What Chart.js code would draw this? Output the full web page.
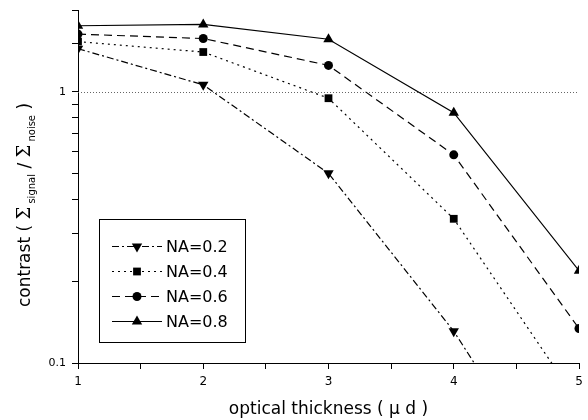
<!DOCTYPE html>
<html>
<head>
<meta charset="utf-8">
<script src="https://cdn.jsdelivr.net/npm/chart.js@4/dist/chart.umd.min.js"></script>
<style>
  html, body { margin: 0; padding: 0; background: #fff; }
  canvas { display: block; }
</style>
</head>
<body>
<canvas id="chart" width="588" height="420"></canvas>
<script>
// optical thickness (x) and contrast values per NA
const thickness = [1, 2, 3, 4, 5];
const na02 = [1.44, 1.06, 0.50, 0.131, 0.025];
const na04 = [1.53, 1.40, 0.946, 0.34, 0.071];
const na06 = [1.63, 1.57, 1.25, 0.585, 0.134];
const na08 = [1.75, 1.77, 1.56, 0.837, 0.219];
const seriesLabels = ['NA=0.2', 'NA=0.4', 'NA=0.6', 'NA=0.8'];
const yLabelTicks = [0.1, 1];
const refLine = 1;

const toPoints = (vals) => thickness.map((x, i) => ({ x: x, y: vals[i] }));

const styles = [
    { dash: [7, 3, 2, 3], point: 'triangle', rot: 180, r: 6 },
    { dash: [2, 4], point: 'rect', rot: 0, r: 5.5 },
    { dash: [8, 5], point: 'circle', rot: 0, r: 4.5 },
    { dash: [], point: 'triangle', rot: 0, r: 6 }
];

const datasets = [na02, na04, na06, na08].map((vals, i) => ({
    label: seriesLabels[i],
    data: toPoints(vals),
    borderColor: '#000',
    backgroundColor: '#000',
    borderWidth: 1.2,
    borderDash: styles[i].dash,
    pointStyle: styles[i].point,
    pointRotation: styles[i].rot,
    pointRadius: styles[i].r,
    pointBorderWidth: 0,
    tension: 0,
    clip: false
}));

const SANS = '"DejaVu Sans", "Liberation Sans", sans-serif';

const extras = {
    id: 'extras',
    beforeDatasetsDraw(chart) {
        // dotted line at contrast = 1
        const { ctx, chartArea } = chart;
        const y = Math.round(chart.scales.y.getPixelForValue(refLine)) + 0.5;
        ctx.save();
        ctx.strokeStyle = '#666';
        ctx.lineWidth = 1;
        ctx.setLineDash([1, 2]);
        ctx.beginPath();
        ctx.moveTo(chartArea.left, y);
        ctx.lineTo(chartArea.right, y);
        ctx.stroke();
        ctx.restore();
        // clip series to the plot (markers cut at left/right edges)
        ctx.save();
        ctx.beginPath();
        ctx.rect(chartArea.left, chartArea.top - 8, chartArea.right - chartArea.left, chartArea.bottom - chartArea.top + 8);
        ctx.clip();
    },
    afterDatasetsDraw(chart) {
        chart.ctx.restore();
    },
    afterDraw(chart) {
        const ctx = chart.ctx;
        // y axis title with subscripts
        const parts = [
            ['contrast ( ', '17px ' + SANS, 0],
            ['\u03A3', '18px "DejaVu Serif", serif', 0],
            [' signal', '10px ' + SANS, 5],
            [' / ', '17px ' + SANS, 0],
            ['\u03A3', '18px "DejaVu Serif", serif', 0],
            [' noise', '10px ' + SANS, 5],
            [' )', '17px ' + SANS, 0]
        ];
        ctx.save();
        ctx.translate(24, 205);
        ctx.rotate(-Math.PI / 2);
        ctx.fillStyle = '#000';
        ctx.textBaseline = 'alphabetic';
        let total = 0;
        parts.forEach(p => { ctx.font = p[1]; total += ctx.measureText(p[0]).width; });
        let u = -total / 2;
        parts.forEach(p => {
            ctx.font = p[1];
            ctx.fillText(p[0], u, 6 + p[2]);
            u += ctx.measureText(p[0]).width;
        });
        ctx.restore();

        // legend box inside plot
        const box = { x: 99.5, y: 219.5, w: 146, h: 123 };
        ctx.save();
        ctx.fillStyle = '#fff';
        ctx.fillRect(box.x, box.y, box.w, box.h);
        ctx.strokeStyle = '#000';
        ctx.lineWidth = 1;
        ctx.strokeRect(box.x, box.y, box.w, box.h);
        const rows = [246.5, 271.5, 296.5, 321.5];
        chart.data.datasets.forEach((ds, i) => {
            const y = rows[i];
            ctx.strokeStyle = '#000';
            ctx.lineWidth = ds.borderWidth;
            ctx.setLineDash(ds.borderDash);
            ctx.beginPath();
            ctx.moveTo(112, y);
            ctx.lineTo(162, y);
            ctx.stroke();
            ctx.setLineDash([]);
            ctx.fillStyle = '#000';
            Chart.helpers.drawPoint(ctx, {
                pointStyle: ds.pointStyle,
                rotation: ds.pointRotation,
                radius: ds.pointRadius,
                borderWidth: 0
            }, 137, y);
            ctx.fillStyle = '#000';
            ctx.font = '16px ' + SANS;
            ctx.textBaseline = 'middle';
            ctx.textAlign = 'left';
            ctx.fillText(ds.label, 166, y + 1);
        });
        ctx.restore();
    }
};

new Chart(document.getElementById('chart').getContext('2d'), {
    type: 'line',
    data: { datasets: datasets },
    options: {
        responsive: false,
        animation: false,
        layout: { padding: { top: 10, right: 9, left: 0, bottom: 0 } },
        plugins: {
            legend: { display: false },
            tooltip: { enabled: false }
        },
        scales: {
            x: {
                type: 'linear',
                min: 1,
                max: 5,
                afterFit: (s) => { s.height = 57; s.paddingLeft = 0; s.paddingRight = 0; },
                afterBuildTicks: (s) => {
                    s.ticks = [];
                    for (let v = 1; v <= 5.001; v += 0.5) s.ticks.push({ value: v });
                },
                ticks: {
                    autoSkip: false,
                    maxRotation: 0,
                    padding: 6,
                    color: '#000',
                    font: { family: SANS, size: 12 },
                    callback: (v) => Number.isInteger(v) ? String(v) : ''
                },
                grid: { drawOnChartArea: false, drawTicks: true, tickLength: 6, color: '#000' },
                border: { display: true, color: '#000', width: 1 },
                title: {
                    display: true,
                    text: 'optical thickness ( \u03BC d )',
                    color: '#000',
                    font: { family: SANS, size: 17 },
                    padding: { top: 0, bottom: 0 }
                }
            },
            y: {
                type: 'logarithmic',
                min: 0.1,
                max: 2,
                afterFit: (s) => { s.width = 78; s.paddingTop = 0; s.paddingBottom = 0; },
                ticks: {
                    autoSkip: false,
                    padding: 6,
                    color: '#000',
                    font: { family: SANS, size: 11 },
                    callback: (v) => {
                        const hit = yLabelTicks.find(t => Math.abs(t - v) < 1e-9);
                        return hit !== undefined ? String(hit) : '';
                    }
                },
                grid: { drawOnChartArea: false, drawTicks: true, tickLength: 6, color: '#000' },
                border: { display: true, color: '#000', width: 1 }
            }
        }
    },
    plugins: [extras]
});
</script>
</body>
</html>
